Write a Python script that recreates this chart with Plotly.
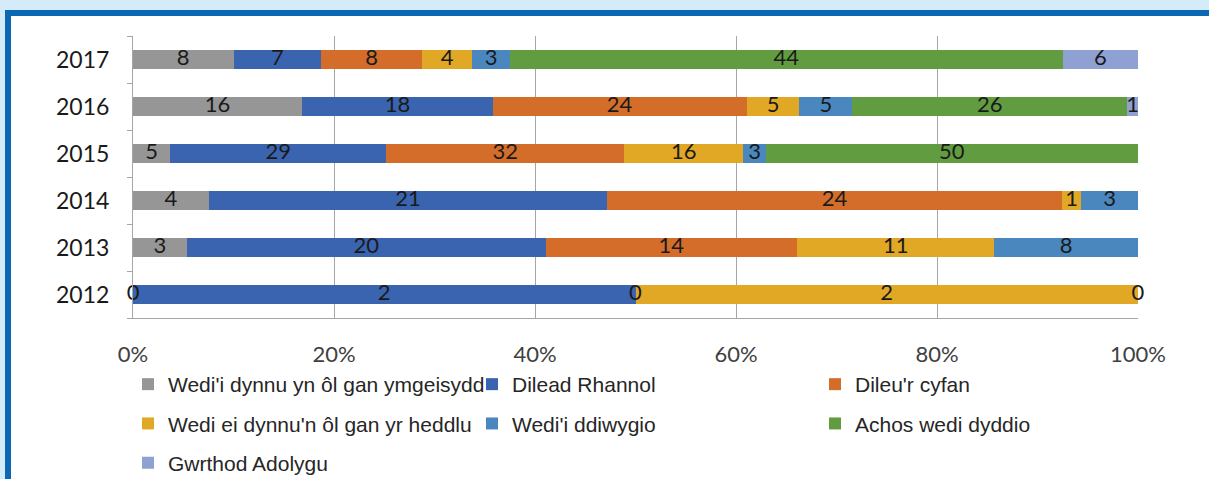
import plotly.graph_objects as go

years = ["2012", "2013", "2014", "2015", "2016", "2017"]
series_names = [
    "Wedi'i dynnu yn ôl gan ymgeisydd",
    "Dilead Rhannol",
    "Dileu'r cyfan",
    "Wedi ei dynnu'n ôl gan yr heddlu",
    "Wedi'i ddiwygio",
    "Achos wedi dyddio",
    "Gwrthod Adolygu",
]
# values per series, in order of years 2012..2017 (None = not present)
withdrawn_applicant = [0, 3, 4, 5, 16, 8]
partial_deletion = [2, 20, 21, 29, 18, 7]
full_deletion = [0, 14, 24, 32, 24, 8]
withdrawn_police = [2, 11, 1, 16, 5, 4]
amended = [0, 8, 3, 3, 5, 3]
case_expired = [None, None, None, 50, 26, 44]
review_refused = [None, None, None, None, 1, 6]

series_values = [withdrawn_applicant, partial_deletion, full_deletion,
                 withdrawn_police, amended, case_expired, review_refused]
colors = ["#969696", "#3a64af", "#d56d2a", "#e0a825", "#4a87be", "#629c41", "#8ea1d2"]
legend_of = ["legend", "legend2", "legend3", "legend", "legend2", "legend3", "legend"]
x_ticks = [0, 20, 40, 60, 80, 100]
x_tick_labels = ["0%", "20%", "40%", "60%", "80%", "100%"]

W, H = 1209, 479
ML, MR, MT, MB = 133, 71, 36, 161
PW, PH = W - ML - MR, H - MT - MB


def px_x(p):
    return (p - ML) / PW


def px_y(p):
    return (H - MB - p) / PH


fig = go.Figure()
for i, (name, vals) in enumerate(zip(series_names, series_values)):
    fig.add_trace(go.Bar(
        y=years, x=[v if v is not None else 0 for v in vals], name=name,
        orientation="h", marker=dict(color=colors[i], line=dict(width=0)),
        legend=legend_of[i], legendgroup="g%d" % i, hoverinfo="skip",
    ))

# labels at segment centres (percent of each year's total)
lab_x, lab_y, lab_t = [], [], []
for j, yr in enumerate(years):
    total = sum(v[j] for v in series_values if v[j] is not None)
    cum = 0.0
    for vals in series_values:
        v = vals[j]
        if v is None:
            continue
        pct = v / total * 100
        lab_x.append(cum + pct / 2)
        lab_y.append(yr)
        lab_t.append(str(v))
        cum += pct
fig.add_trace(go.Scatter(
    x=lab_x, y=lab_y, text=lab_t, mode="text", textposition="middle center",
    textfont=dict(family="Lato", size=22, color="#1a1a1a"),
    showlegend=False, hoverinfo="skip", cliponaxis=False,
))

legend_common = dict(
    orientation="v", yanchor="top", xanchor="left", bgcolor="rgba(0,0,0,0)",
    font=dict(family="Liberation Sans", size=21, color="#262626"),
    tracegroupgap=9, itemwidth=30, traceorder="grouped",
)
fig.update_layout(
    width=W, height=H,
    margin=dict(l=ML, r=MR, t=MT, b=MB, pad=0, autoexpand=False),
    barmode="stack", barnorm="percent", bargap=0.596,
    paper_bgcolor="#d4ecf9", plot_bgcolor="rgba(0,0,0,0)",
    xaxis=dict(range=[0, 100], tickvals=x_ticks, ticktext=x_tick_labels,
               showgrid=True, gridcolor="#a6a6a6", gridwidth=1, zeroline=False,
               showline=True, linecolor="#a6a6a6", linewidth=1, ticks="",
               ticklabelstandoff=17,
               tickfont=dict(family="Lato", size=22, color="#404040")),
    yaxis=dict(type="category", categoryorder="array", categoryarray=years,
               showgrid=False, showline=True, linecolor="#a6a6a6", linewidth=1,
               ticks="outside", tickson="boundaries", ticklen=5, tickcolor="#a6a6a6",
               ticklabelstandoff=18,
               tickfont=dict(family="Lato", size=23, color="#1a1a1a")),
    legend=dict(x=px_x(128), y=px_y(364), **legend_common),
    legend2=dict(x=px_x(472), y=px_y(364), **legend_common),
    legend3=dict(x=px_x(815), y=px_y(364), **legend_common),
    shapes=[
        dict(type="rect", xref="paper", yref="paper", layer="below",
             x0=px_x(5), x1=px_x(1230), y0=px_y(500), y1=px_y(10),
             fillcolor="#0b68b3", line=dict(width=0)),
        dict(type="rect", xref="paper", yref="paper", layer="below",
             x0=px_x(11), x1=px_x(1230), y0=px_y(500), y1=px_y(16),
             fillcolor="#ffffff", line=dict(width=0)),
    ],
)
fig.write_html(
    "out.html",
    config={"displayModeBar": False},
    post_script="document.body.style.margin='0';document.body.style.overflow='hidden';",
)
